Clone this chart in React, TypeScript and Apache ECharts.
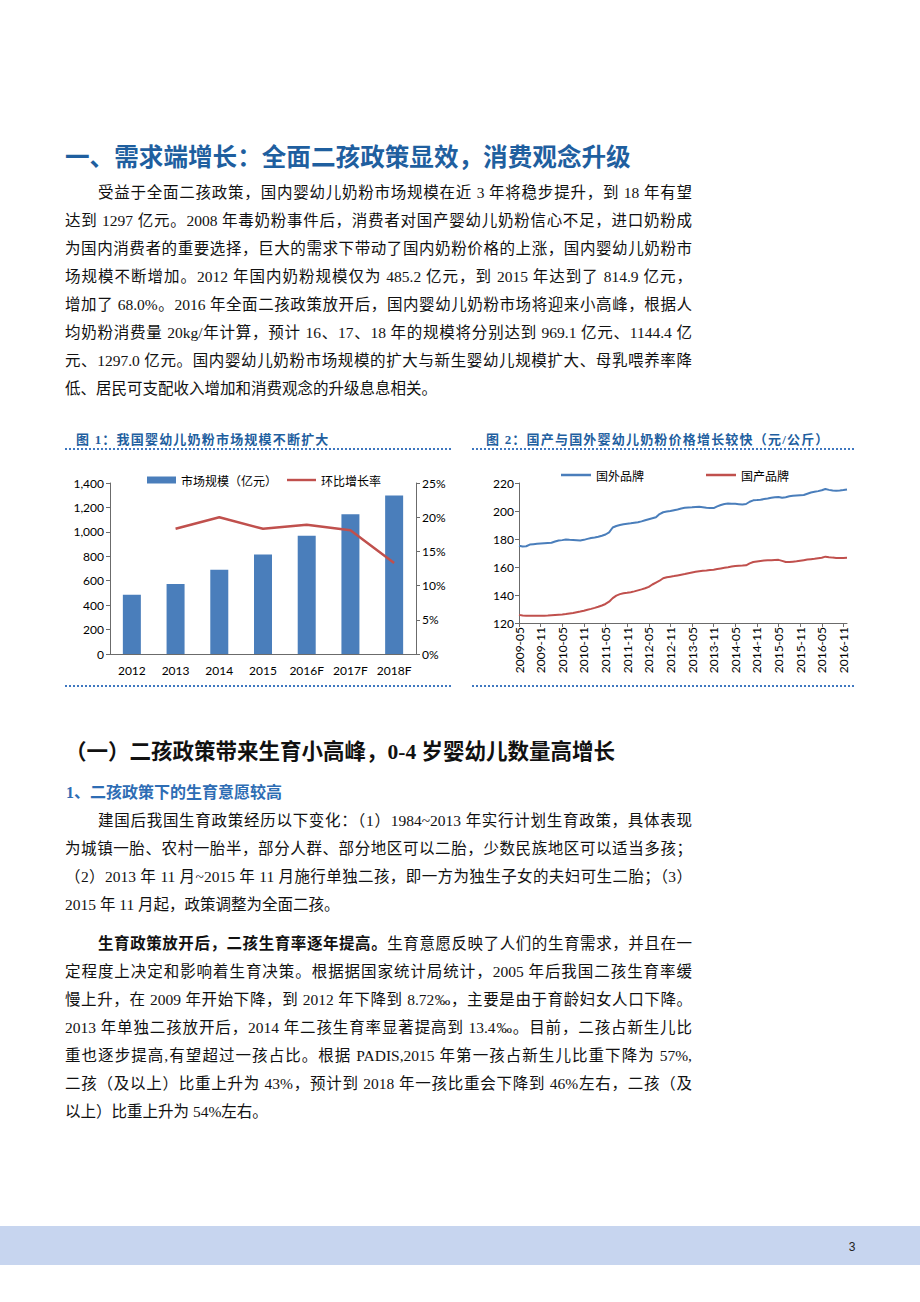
import React, { useEffect, useRef } from "react";
import * as echarts from "echarts";

// ---------- Chart 1 data ----------
const years = ["2012", "2013", "2014", "2015", "2016F", "2017F", "2018F"];
const marketSize = [485.2, 574.0, 688.8, 814.9, 969.1, 1144.4, 1297.0];
const growthRate = [null, 18.3, 20.0, 18.3, 18.9, 18.1, 13.3];
const leftTicks = { min: 0, max: 1400, interval: 200 };
const rightTicks = { min: 0, max: 25, interval: 5 };

// ---------- Chart 2 data ----------
const months = [
  "2009-05", "2009-06", "2009-07", "2009-08", "2009-09", "2009-10", "2009-11", "2009-12",
  "2010-01", "2010-02", "2010-03", "2010-04", "2010-05", "2010-06", "2010-07", "2010-08", "2010-09", "2010-10", "2010-11", "2010-12",
  "2011-01", "2011-02", "2011-03", "2011-04", "2011-05", "2011-06", "2011-07", "2011-08", "2011-09", "2011-10", "2011-11", "2011-12",
  "2012-01", "2012-02", "2012-03", "2012-04", "2012-05", "2012-06", "2012-07", "2012-08", "2012-09", "2012-10", "2012-11", "2012-12",
  "2013-01", "2013-02", "2013-03", "2013-04", "2013-05", "2013-06", "2013-07", "2013-08", "2013-09", "2013-10", "2013-11", "2013-12",
  "2014-01", "2014-02", "2014-03", "2014-04", "2014-05", "2014-06", "2014-07", "2014-08", "2014-09", "2014-10", "2014-11", "2014-12",
  "2015-01", "2015-02", "2015-03", "2015-04", "2015-05", "2015-06", "2015-07", "2015-08", "2015-09", "2015-10", "2015-11", "2015-12",
  "2016-01", "2016-02", "2016-03", "2016-04", "2016-05", "2016-06", "2016-07", "2016-08", "2016-09", "2016-10", "2016-11", "2016-12",
];
const foreignBrand = [
  175.2, 174.6, 174.8, 176.0, 176.3, 176.6, 176.8, 177.0,
  177.2, 177.3, 178.2, 178.9, 179.2, 179.6, 179.4, 179.3, 179.1, 178.9, 179.4, 180.1,
  180.7, 181.1, 181.6, 182.3, 183.2, 184.8, 188.2, 189.3, 190.0, 190.6, 190.9, 191.2,
  191.6, 192.0, 192.6, 193.4, 194.1, 194.8, 195.5, 197.8, 199.1, 199.6, 200.0, 200.6,
  201.1, 201.8, 202.3, 202.5, 202.6, 202.8, 203.0, 202.7, 202.4, 202.2, 202.1, 203.3,
  204.3, 205.0, 205.3, 205.2, 205.1, 204.9, 204.7, 205.0, 206.6, 207.6, 207.8, 208.1,
  208.5, 208.9, 209.4, 209.8, 210.0, 209.4, 209.8, 210.5, 210.9, 211.1, 211.3, 211.4,
  212.3, 213.2, 213.7, 214.2, 214.8, 215.7, 215.1, 214.6, 214.5, 214.7, 215.0, 215.4,
];
const domesticBrand = [
  125.8, 125.3, 125.1, 125.1, 125.2, 125.2, 125.2, 125.2,
  125.3, 125.5, 125.7, 125.9, 126.1, 126.4, 126.8, 127.2, 127.7, 128.2, 128.8, 129.5,
  130.1, 130.8, 131.6, 132.5, 133.6, 135.2, 137.8, 139.6, 140.6, 141.3, 141.6, 142.0,
  142.6, 143.3, 144.0, 144.8, 145.8, 147.5, 148.9, 150.2, 152.0, 152.7, 153.1, 153.5,
  154.0, 154.5, 155.0, 155.6, 156.1, 156.6, 157.0, 157.3, 157.5, 157.8, 158.1, 158.6,
  159.0, 159.4, 159.8, 160.3, 160.7, 160.9, 161.0, 161.2, 162.6, 163.6, 164.0, 164.3,
  164.6, 164.8, 164.9, 165.0, 165.1, 164.4, 163.6, 163.5, 163.8, 164.1, 164.5, 164.9,
  165.3, 165.6, 165.9, 166.3, 166.6, 167.4, 167.0, 166.7, 166.5, 166.4, 166.5, 166.6,
];
const priceTicks = { min: 120, max: 220, interval: 20 };

// ---------- Text ----------
const heading1 = "一、需求端增长：全面二孩政策显效，消费观念升级";
const para1 = [
  "受益于全面二孩政策，国内婴幼儿奶粉市场规模在近 3 年将稳步提升，到 18 年有望",
  "达到 1297 亿元。2008 年毒奶粉事件后，消费者对国产婴幼儿奶粉信心不足，进口奶粉成",
  "为国内消费者的重要选择，巨大的需求下带动了国内奶粉价格的上涨，国内婴幼儿奶粉市",
  "场规模不断增加。2012 年国内奶粉规模仅为 485.2 亿元，到 2015 年达到了 814.9 亿元，",
  "增加了 68.0%。2016 年全面二孩政策放开后，国内婴幼儿奶粉市场将迎来小高峰，根据人",
  "均奶粉消费量 20kg/年计算，预计 16、17、18 年的规模将分别达到 969.1 亿元、1144.4 亿",
  "元、1297.0 亿元。国内婴幼儿奶粉市场规模的扩大与新生婴幼儿规模扩大、母乳喂养率降",
  "低、居民可支配收入增加和消费观念的升级息息相关。",
];
const chart1Title = "图 1：我国婴幼儿奶粉市场规模不断扩大";
const chart2Title = "图 2：国产与国外婴幼儿奶粉价格增长较快（元/公斤）";
const heading2 = "（一）二孩政策带来生育小高峰，0-4 岁婴幼儿数量高增长";
const heading3 = "1、二孩政策下的生育意愿较高";
const para2 = [
  "建国后我国生育政策经历以下变化：（1）1984~2013 年实行计划生育政策，具体表现",
  "为城镇一胎、农村一胎半，部分人群、部分地区可以二胎，少数民族地区可以适当多孩；",
  "（2）2013 年 11 月~2015 年 11 月施行单独二孩，即一方为独生子女的夫妇可生二胎；（3）",
  "2015 年 11 月起，政策调整为全面二孩。",
];
const para3Bold = "生育政策放开后，二孩生育率逐年提高。";
const para3 = [
  "生育意愿反映了人们的生育需求，并且在一",
  "定程度上决定和影响着生育决策。根据据国家统计局统计，2005  年后我国二孩生育率缓",
  "慢上升，在 2009 年开始下降，到 2012 年下降到 8.72‰，主要是由于育龄妇女人口下降。",
  "2013 年单独二孩放开后，2014 年二孩生育率显著提高到 13.4‰。目前，二孩占新生儿比",
  "重也逐步提高,有望超过一孩占比。根据 PADIS,2015 年第一孩占新生儿比重下降为 57%,",
  "二孩（及以上）比重上升为 43%，预计到 2018 年一孩比重会下降到 46%左右，二孩（及",
  "以上）比重上升为 54%左右。",
];
const pageNumber = "3";

const BODY_FONT = "'Liberation Serif', 'Noto Sans CJK SC', serif";
const HEAD_FONT = "'Liberation Serif', 'Noto Sans CJK SC', sans-serif";
const AXIS_FONT = "Lato, 'Noto Sans CJK SC', sans-serif";
const CJK_FONT = "'Noto Sans CJK SC', sans-serif";
const LINE_ICON = "path://M0,0L30,0L30,2.5L0,2.5Z";

const TEXT_LEFT = 65;
const TEXT_WIDTH = 627;
const INDENT = 33;

function TextLine(props: { y: number; indent?: boolean; last?: boolean; children: any }) {
  const { y, indent, last, children } = props;
  const left = TEXT_LEFT + (indent ? INDENT : 0);
  return (
    <div
      style={{
        position: "absolute",
        left,
        top: y - 14,
        width: TEXT_WIDTH - (indent ? INDENT : 0),
        height: 28,
        lineHeight: "28px",
        fontSize: 15.5,
        fontFamily: BODY_FONT,
        color: "#111",
        textAlign: "justify",
        textAlignLast: last ? "left" : "justify",
        overflow: "visible",
      } as any}
    >
      {children}
    </div>
  );
}

function Chart1() {
  const ref = useRef<HTMLDivElement>(null);
  useEffect(() => {
    const chart = echarts.init(ref.current!, null, { renderer: "svg" });
    const axisColor = "#6b6b6b";
    chart.setOption({
      animation: false,
      textStyle: { fontFamily: AXIS_FONT },
      legend: {
        left: 82,
        top: 14,
        itemGap: 10,
        itemWidth: 29,
        itemHeight: 7,
        textStyle: { fontSize: 12, color: "#000", fontFamily: CJK_FONT },
        data: [
          { name: "市场规模（亿元）", icon: "rect" },
          { name: "环比增长率", icon: LINE_ICON },
        ],
      },
      grid: { left: 50, top: 28, width: 306, height: 171 },
      xAxis: {
        type: "category",
        data: years,
        axisLine: { lineStyle: { color: axisColor, width: 1 } },
        axisTick: { length: 5, lineStyle: { color: axisColor } },
        axisLabel: { interval: 0, color: "#000", fontSize: 12, margin: 10, fontFamily: AXIS_FONT },
      },
      yAxis: [
        {
          type: "value",
          ...leftTicks,
          splitLine: { show: false },
          axisLine: { show: true, lineStyle: { color: axisColor } },
          axisTick: { show: true, length: 4, lineStyle: { color: axisColor } },
          axisLabel: {
            color: "#000",
            fontSize: 12,
            margin: 6,
            fontFamily: AXIS_FONT,
            formatter: (v: number) => v.toLocaleString("en-US"),
          },
        },
        {
          type: "value",
          position: "right",
          ...rightTicks,
          splitLine: { show: false },
          axisLine: { show: true, lineStyle: { color: axisColor } },
          axisTick: { show: true, length: 4, lineStyle: { color: axisColor } },
          axisLabel: { color: "#000", fontSize: 12, margin: 6, fontFamily: AXIS_FONT, formatter: "{value}%" },
        },
      ],
      series: [
        {
          name: "市场规模（亿元）",
          type: "bar",
          data: marketSize,
          barWidth: 18,
          itemStyle: { color: "#4a7ebb" },
        },
        {
          name: "环比增长率",
          type: "line",
          yAxisIndex: 1,
          data: growthRate,
          symbol: "none",
          color: "#c0504d",
          lineStyle: { color: "#c0504d", width: 2.5 },
          itemStyle: { color: "#c0504d" },
        },
      ],
    });
    return () => chart.dispose();
  }, []);
  return <div ref={ref} style={{ position: "absolute", left: 60, top: 455, width: 400, height: 228 }} />;
}

function Chart2() {
  const ref = useRef<HTMLDivElement>(null);
  useEffect(() => {
    const chart = echarts.init(ref.current!, null, { renderer: "svg" });
    const axisColor = "#6b6b6b";
    chart.setOption({
      animation: false,
      textStyle: { fontFamily: AXIS_FONT },
      legend: {
        left: 86,
        top: 9,
        itemGap: 62,
        itemWidth: 30,
        itemHeight: 8,
        textStyle: { fontSize: 12, color: "#000", fontFamily: CJK_FONT },
        data: [
          { name: "国外品牌", icon: LINE_ICON },
          { name: "国产品牌", icon: LINE_ICON },
        ],
      },
      grid: { left: 49, top: 28, width: 328, height: 140 },
      xAxis: {
        type: "category",
        data: months,
        boundaryGap: false,
        axisLine: { lineStyle: { color: axisColor } },
        axisTick: { interval: 5, length: 4, lineStyle: { color: axisColor } },
        axisLabel: { interval: 5, rotate: 90, margin: 4, color: "#000", fontSize: 12, fontFamily: AXIS_FONT },
      },
      yAxis: {
        type: "value",
        ...priceTicks,
        splitLine: { show: false },
        axisLine: { show: true, lineStyle: { color: axisColor } },
        axisTick: { show: true, length: 4, lineStyle: { color: axisColor } },
        axisLabel: { color: "#000", fontSize: 12, margin: 5, fontFamily: AXIS_FONT },
      },
      series: [
        {
          name: "国外品牌",
          type: "line",
          data: foreignBrand,
          symbol: "none",
          color: "#4a7ebb",
          lineStyle: { color: "#4a7ebb", width: 2 },
          itemStyle: { color: "#4a7ebb" },
        },
        {
          name: "国产品牌",
          type: "line",
          data: domesticBrand,
          symbol: "none",
          color: "#c0504d",
          lineStyle: { color: "#c0504d", width: 2 },
          itemStyle: { color: "#c0504d" },
        },
      ],
    });
    return () => chart.dispose();
  }, []);
  return <div ref={ref} style={{ position: "absolute", left: 470, top: 455, width: 400, height: 228 }} />;
}

function ChartFrame(props: { left: number; width: number; title: string; titleLeft: number }) {
  const { left, width, title, titleLeft } = props;
  return (
    <>
      <div
        style={{
          position: "absolute",
          left: titleLeft,
          top: 430,
          height: 20,
          lineHeight: "20px",
          fontSize: 13,
          letterSpacing: 1.2,
          fontWeight: 700,
          color: "#1f5f9f",
          fontFamily: HEAD_FONT,
          whiteSpace: "nowrap",
        }}
      >
        {title}
      </div>
      <div style={{ position: "absolute", left, top: 448, width, height: 0, borderTop: "2px dotted #3f78c0" }} />
      <div style={{ position: "absolute", left, top: 685, width, height: 0, borderTop: "2px dotted #3f78c0" }} />
    </>
  );
}

export default function App() {
  const p1Y = [193, 221, 249, 277, 305, 333, 361, 389];
  const p2Y = [821, 849, 877, 905];
  const p3Y = [944, 972, 1000, 1028, 1056, 1084, 1112];
  return (
    <div style={{ position: "absolute", left: 0, top: 0, width: 920, height: 1302, background: "#fff", overflow: "hidden" }}>
      <div
        style={{
          position: "absolute",
          left: 65,
          top: 140,
          height: 36,
          lineHeight: "36px",
          fontSize: 24.6,
          fontWeight: 700,
          color: "#1f5f9f",
          fontFamily: HEAD_FONT,
          whiteSpace: "nowrap",
        }}
      >
        {heading1}
      </div>
      {para1.map((t, i) => (
        <TextLine key={"p1" + i} y={p1Y[i]} indent={i === 0} last={i === para1.length - 1}>
          {t}
        </TextLine>
      ))}

      <ChartFrame left={65} width={386} title={chart1Title} titleLeft={76} />
      <ChartFrame left={472} width={382} title={chart2Title} titleLeft={486} />
      <Chart1 />
      <Chart2 />

      <div
        style={{
          position: "absolute",
          left: 65,
          top: 737,
          height: 30,
          lineHeight: "30px",
          fontSize: 21.5,
          fontWeight: 700,
          color: "#111",
          fontFamily: HEAD_FONT,
          whiteSpace: "nowrap",
        }}
      >
        {heading2}
      </div>
      <div
        style={{
          position: "absolute",
          left: 66,
          top: 781,
          height: 24,
          lineHeight: "24px",
          fontSize: 16,
          fontWeight: 700,
          color: "#2e6db4",
          fontFamily: HEAD_FONT,
          whiteSpace: "nowrap",
        }}
      >
        {heading3}
      </div>
      {para2.map((t, i) => (
        <TextLine key={"p2" + i} y={p2Y[i]} indent={i === 0} last={i === para2.length - 1}>
          {t}
        </TextLine>
      ))}
      {para3.map((t, i) => (
        <TextLine key={"p3" + i} y={p3Y[i]} indent={i === 0} last={i === para3.length - 1}>
          {i === 0 ? (
            <>
              <span style={{ fontWeight: 700 }}>{para3Bold}</span>
              {t}
            </>
          ) : (
            t
          )}
        </TextLine>
      ))}

      <div style={{ position: "absolute", left: 0, top: 1226, width: 920, height: 39, background: "#c7d5ef" }} />
      <div
        style={{
          position: "absolute",
          left: 846,
          top: 1238,
          width: 12,
          height: 18,
          lineHeight: "18px",
          fontSize: 12,
          textAlign: "center",
          color: "#222",
          fontFamily: "'Liberation Sans', sans-serif",
        }}
      >
        {pageNumber}
      </div>
    </div>
  );
}
